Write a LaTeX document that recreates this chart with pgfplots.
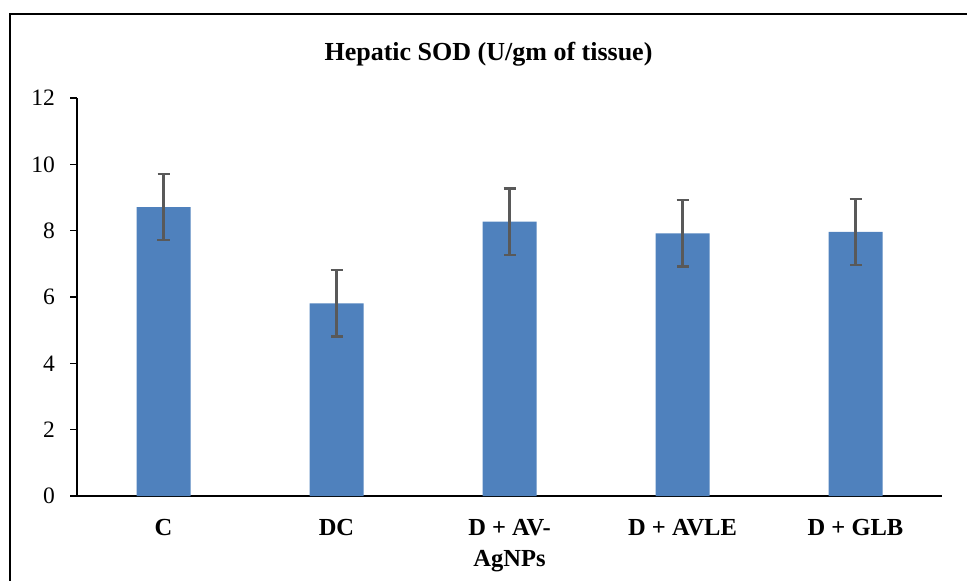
\documentclass[border=0pt]{standalone}
\usepackage{fontspec}
\setmainfont{Liberation Serif}
\usepackage{pgfplots}
\pgfplotsset{compat=1.18}
\definecolor{barblue}{HTML}{4F81BD}
\definecolor{errgray}{HTML}{595959}
\begin{document}
\begin{tikzpicture}[x=0.5pt,y=0.5pt]
\useasboundingbox (0,0) rectangle (967,580);
\begin{scope}
\clip (0,0) rectangle (967,580);
\draw[line width=1pt, black] (10,-20) -- (10,566) -- (985,566);
\end{scope}
\node[anchor=base, inner sep=0pt, font=\fontsize{13}{15}\selectfont\bfseries] at (488.5,520) {Hepatic SOD (U/gm of tissue)};
\begin{axis}[
  at={(38.5pt,42pt)}, anchor=south west,
  scale only axis, width=432.5pt, height=199pt,
  xmin=-0.5, xmax=4.5, ymin=0, ymax=12,
  enlargelimits=false,
  axis x line=bottom, axis y line=left,
  axis line style={black, line width=0.8pt, -},
  ytick={0,2,4,6,8,10,12},
  ytick pos=left,
  tick align=outside,
  major tick length=3.5pt,
  ytick style={black, line width=0.7pt},
  xtick=data,
  xtick style={draw=none},
  xticklabels={C, DC, {D + AV-\\AgNPs}, D + AVLE, D + GLB},
  xticklabel style={align=center, anchor=north, yshift=-4.5pt, font=\fontsize{12.25}{15.8}\selectfont\bfseries},
  yticklabel style={xshift=-4pt, font=\fontsize{11.75}{14}\selectfont},
  /pgf/number format/assume math mode=true,
  clip=false,
  error bars/error bar style={draw=errgray, line width=1.1pt},
  error bars/error mark options={draw=errgray, line width=1.1pt, mark size=3pt, rotate=90},
]
\addplot[ybar, bar width=27pt, fill=barblue, draw=none,
  error bars/.cd, y dir=both, y explicit]
  coordinates {
    (0,8.71) +- (0,1.0)
    (1,5.81) +- (0,1.0)
    (2,8.27) +- (0,1.0)
    (3,7.92) +- (0,1.0)
    (4,7.96) +- (0,1.0)
  };
\end{axis}
\end{tikzpicture}
\end{document}
